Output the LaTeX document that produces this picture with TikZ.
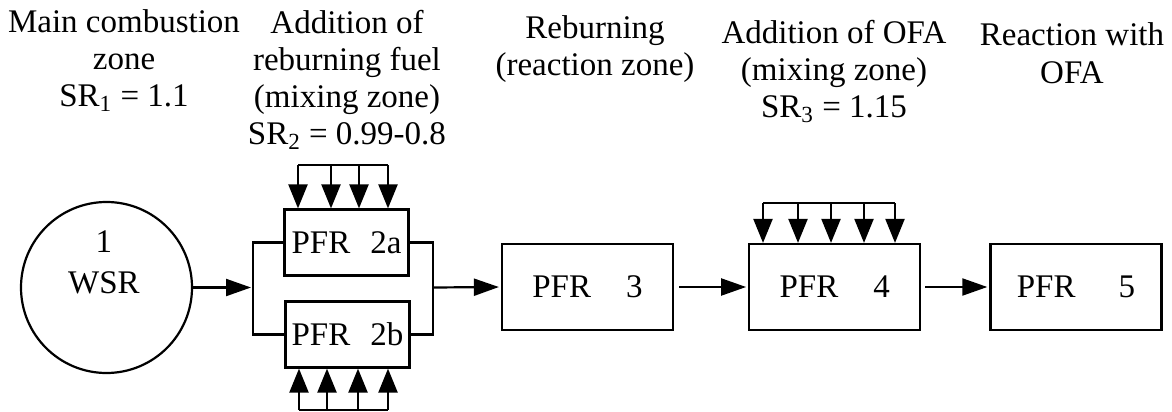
\documentclass[tikz,border=0pt]{standalone}
\usepackage{fontspec}
\setmainfont{Liberation Serif}
\usetikzlibrary{arrows.meta,positioning}

\begin{document}
\begin{tikzpicture}[x=.5pt, y=-.5pt, font=\fontsize{16.5}{18.5}\selectfont, line width=1.1pt,
	zone/.style={align=center, anchor=base, inner sep=0pt},
	pfr/.style={draw, minimum width=85.5pt, minimum height=43pt, inner sep=1pt},
	pfrsmall/.style={draw, minimum width=62pt, minimum height=33pt, inner sep=1pt},
	flow/.style={-{Triangle[length=12.5pt, width=8.5pt]}, shorten >=1pt},
	feed/.style={-{Triangle[length=12pt, width=9.5pt]}}]
	\useasboundingbox (0,0) rectangle (1172,412);
	%zone labels (placed on the baseline of the last line)
	\node[zone] (lblmain) at (124,106) {Main combustion\\zone\\SR\textsubscript{1} = 1.1};
	\node[zone] (lblfuel) at (347,144) {Addition of\\reburning fuel\\(mixing zone)\\SR\textsubscript{2} = 0.99-0.8};
	\node[zone] (lblreburn) at (595,75) {Reburning\\(reaction zone)};
	\node[zone] (lblofa) at (834,117) {Addition of OFA\\(mixing zone)\\SR\textsubscript{3} = 1.15};
	\node[zone] (lblreact) at (1072,83) {Reaction with\\OFA};
	%reactors
	\node[draw, circle, minimum size=85.5pt] (wsr) at (106.5,287.5) {};
	\node[zone] (wsrname) at (104,293) {1\\[2pt]WSR};
	\node[pfrsmall] (b2a) at (346.5,242.5) {PFR\hspace{10pt}2a};
	\node[pfrsmall] (b2b) at (347.5,334.5) {PFR\hspace{10pt}2b};
	\node[pfr] (b3) at (587.5,287) {PFR\hspace{17.5pt}3};
	\node[pfr, right=37pt of b3] (b4) {PFR\hspace{17.5pt}4};
	\node[pfr, right=34pt of b4] (b5) {PFR\hspace{21.5pt}5};
	%main flow
	\coordinate (split) at (253,287.5);
	\coordinate (join) at (433,287.5);
	\draw[flow] (wsr.east) -- (split);
	\draw (split) |- (b2a.west);
	\draw (split) |- (b2b.west);
	\draw (b2a.east) -| (join) |- (b2b.east);
	\draw[flow] (join) -- (b3.west);
	\draw[flow, shorten <=2.5pt] (b3) -- (b4);
	\draw[flow, shorten <=2pt] (b4) -- (b5);
	%reburning fuel feed
	\draw (298,165) -- (388,165);
	\foreach \x in {298,331,359,388}
	\draw[feed] (\x,165) -- (\x,165 |- b2a.north);
	\draw (299,410) -- (388,410);
	\foreach \x in {299,327,358,388}
	\draw[feed] (\x,410) -- (\x,410 |- b2b.south);
	%OFA feed
	\draw (763,203) -- (895,203);
	\foreach \x in {763,798,831,864,895}
	\draw[feed] (\x,203) -- (\x,203 |- b4.north);
\end{tikzpicture}
\end{document}
